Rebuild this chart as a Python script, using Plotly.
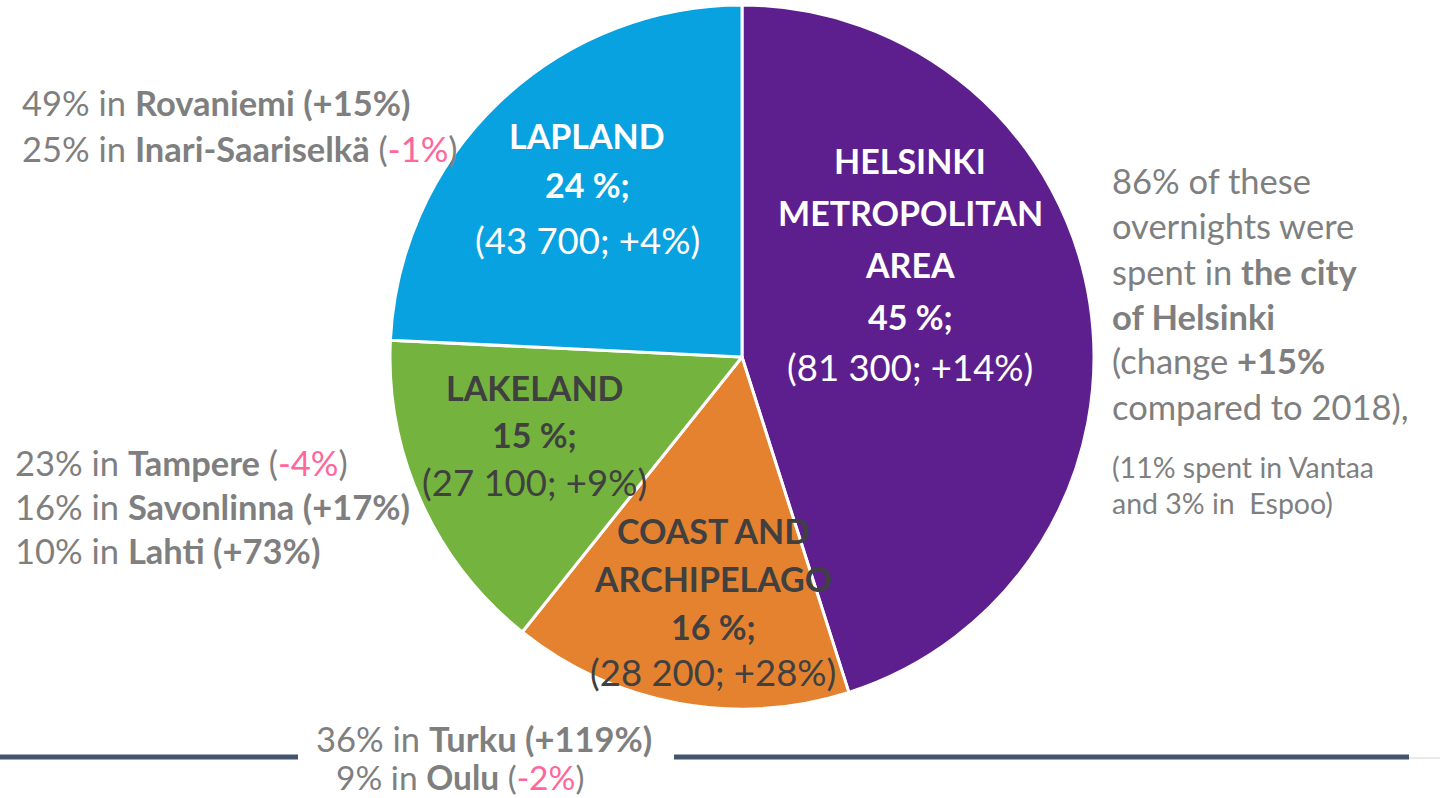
import plotly.graph_objects as go

W, H = 1440, 798

# data (clockwise from 12 o'clock)
regions = ['HELSINKI<br>METROPOLITAN<br>AREA', 'COAST AND<br>ARCHIPELAGO', 'LAKELAND', 'LAPLAND']
overnights = [81300, 28200, 27100, 43700]
shares = [45, 16, 15, 24]
changes = ['+14%', '+28%', '+9%', '+4%']
colors = ['#5e1f8e', '#e5822f', '#74b33d', '#07a2df']
label_colors = ['white', '#404040', '#404040', 'white']

GREY = '#7f7f7f'
PINK = '#ff6699'

fig = go.Figure(go.Pie(
    labels=[r.replace('<br>', ' ') for r in regions],
    values=overnights,
    sort=False, direction='clockwise', rotation=0,
    marker=dict(colors=colors, line=dict(color='white', width=3)),
    textinfo='none', hoverinfo='label+value+percent',
    domain=dict(x=[390 / W, 1094 / W], y=[1 - 710 / H, 1 - 4 / H]),
    showlegend=False,
))


def px(x, y):
    return x / W, 1 - y / H


def note(text, x, y, size=34.5, color=GREY, anchor='left', family='Lato'):
    xp, yp = px(x, y)
    fig.add_annotation(text=text, x=xp, y=yp, xref='paper', yref='paper',
                       xanchor=anchor, yanchor='middle', showarrow=False,
                       font=dict(size=size, color=color, family=family))


def fmt(n):
    return f'{n:,}'.replace(',', ' ')


# slice labels, one line each
label_pos = {
    0: (910, [160, 212, 265, 316, 367]),
    1: (713, [530, 578, 626, 672]),
    2: (534, [387, 434, 482]),
    3: (587, [135, 185, 240]),
}
for i, (cx, ys) in label_pos.items():
    lines = ['<b>' + p + '</b>' for p in regions[i].split('<br>')]
    lines.append(f'<b>{shares[i]} %;</b>')
    for txt, y in zip(lines, ys):
        note(txt, cx, y, size=34, color=label_colors[i], anchor='center')
    note(f'({fmt(overnights[i])}; {changes[i]})', cx, ys[-1], size=36.5,
         color=label_colors[i], anchor='center')

pink = lambda s: f"<span style='color:{PINK}'>{s}</span>"

# left: Lapland cities
note('49% in <b>Rovaniemi (+15%)</b>', 20, 102)
note('25% in <b>Inari-Saariselkä</b> (' + pink('-1%') + ')', 20, 148)

# left: Lakeland cities
note('23% in <b>Tampere</b> (' + pink('-4%') + ')', 13, 462)
note('16% in <b>Savonlinna (+17%)</b>', 13, 506)
note('10% in <b>Lahti (+73%)</b>', 13, 550)

# bottom: coast cities
note('36% in <b>Turku (+119%)</b>', 484, 738, anchor='center')
note('9% in <b>Oulu</b> (' + pink('-2%') + ')', 460, 777, size=33.5, anchor='center')

# right: Helsinki
right_lines = ['86% of these', 'overnights were', 'spent in <b>the city</b>',
               '<b>of Helsinki</b>', '(change <b>+15%</b>', 'compared to 2018),']
for k, t in enumerate(right_lines):
    note(t, 1110, 181 + 45 * k)
note('(11% spent in Vantaa', 1110, 467, size=28.5)
note('and 3% in  Espoo)', 1110, 503, size=28.5)

# bottom rule, broken by the text
for x0, x1 in [(0, 298), (674, 1409)]:
    fig.add_shape(type='line', xref='paper', yref='paper',
                  x0=x0 / W, x1=x1 / W, y0=1 - 757 / H, y1=1 - 757 / H,
                  line=dict(color='#44546a', width=5))
fig.add_shape(type='line', xref='paper', yref='paper',
              x0=1409 / W, x1=1, y0=1 - 758 / H, y1=1 - 758 / H,
              line=dict(color='#e3e3e3', width=1.5))

fig.update_layout(
    width=W, height=H,
    margin=dict(l=0, r=0, t=0, b=0),
    paper_bgcolor='white', plot_bgcolor='white',
    font=dict(family='Lato', color=GREY),
)

fig.write_html('out.html', config=dict(displayModeBar=False),
               post_script="document.body.style.margin='0';document.body.style.overflow='hidden';")
